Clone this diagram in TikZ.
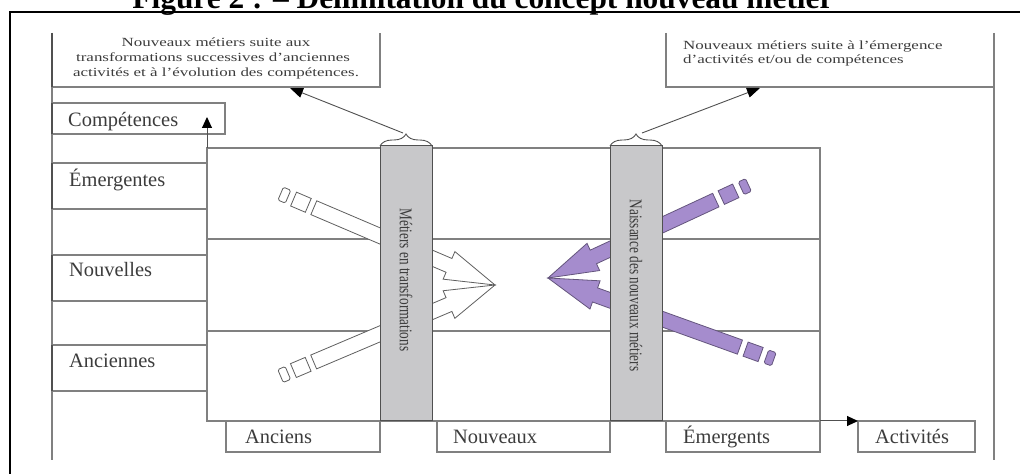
\documentclass[tikz,border=0pt]{standalone}
\usepackage{fontspec}
\usepackage{graphicx}
\setmainfont{Liberation Serif}
\usetikzlibrary{arrows.meta,decorations.pathreplacing}
\definecolor{gline}{RGB}{128,128,128}
\definecolor{gdark}{RGB}{80,80,80}
\definecolor{colfill}{RGB}{200,200,202}
\definecolor{purp}{RGB}{165,140,205}
\definecolor{purpline}{RGB}{100,85,125}
\definecolor{txt}{RGB}{60,60,60}
\definecolor{arrline}{RGB}{95,95,95}
\newcommand\wide[1]{\scalebox{1.36}[1]{#1}}
\newcommand\myarrow[6]{%
  \begin{scope}[shift={(#1,#2)},rotate=#3]
    \filldraw[fill=#5,draw=#6,line width=0.8bp,line join=miter]
      (0,0) -- (-50,15) -- (-50,7.5) -- (-#4,7.5) -- (-#4,-7.5) -- (-50,-7.5) -- (-50,-15) -- cycle;
    \filldraw[fill=#5,draw=#6,line width=0.8bp] (-#4-6,7.5) rectangle (-#4-22,-7.5);
    \filldraw[fill=#5,draw=#6,line width=0.8bp,rounded corners=1.5bp] (-#4-28,7) rectangle (-#4-36,-7);
  \end{scope}}
\begin{document}
\begin{tikzpicture}[x=1bp,y=-1bp,
  gl/.style={draw=gline,line width=1.1bp},
  edge/.style={draw=gdark,line width=2bp},
  lbl/.style={anchor=base west,inner sep=0,font=\fontsize{20.5}{24}\selectfont,text=txt},
  note/.style={inner sep=0,font=\fontsize{12.5}{14.7}\selectfont,text=txt},
  coltext/.style={rotate=-90,inner sep=0,font=\fontsize{13.3}{15}\selectfont,text=txt},
  axis/.style={draw=gdark,line width=1bp,-{Triangle[length=11bp,width=10bp,color=black]}},
  conn/.style={draw=gdark,line width=0.9bp,-{Triangle[length=13bp,width=10bp,color=black]}},
  brace/.style={draw=gdark,line width=0.9bp,decorate,decoration={brace,amplitude=12bp}}]
\useasboundingbox (0,0) rectangle (1020,474);

% title (cropped at the top)
\node[anchor=base,inner sep=0,font=\bfseries\fontsize{31.5}{36}\selectfont] (title) at (483,9) {Figure 2 : – Délimitation du concept nouveau métier};

% outer frame
\draw[black,line width=2.6bp] (10,474) -- (10,12) -- (1020,12);

% inner frame
\draw[gl] (52,33) -- (52,460);
\draw[gl] (994,33) -- (994,460);

% note boxes
\draw[gl] (52,87) -- (380,87) -- (380,33);
\draw[gl] (666,33) -- (666,87) -- (994,87);
\draw[edge] (52,33) -- (52,87);
\node[note,anchor=base] (nl1) at (216,47) {\wide{Nouveaux métiers suite aux}};
\node[note,anchor=base] (nl2) at (213,62) {\wide{transformations successives d’anciennes}};
\node[note,anchor=base] (nl3) at (216,76.5) {\wide{activités et à l’évolution des compétences.}};
\node[note,anchor=base west] (nr1) at (683,50) {\wide{Nouveaux métiers suite à l’émergence}};
\node[note,anchor=base west] (nr2) at (683,63.5) {\wide{d’activités et/ou de compétences}};

% Compétences box
\draw[gl] (52,103) rectangle (225,134);
\draw[edge] (52,103) -- (52,134);
\node[lbl] (comp) at (68,126.5) {Compétences};

% grid
\draw[gl] (207,148) rectangle (820,421);
\draw[gl] (207,239) -- (820,239);
\draw[gl] (207,331) -- (820,331);

% left label boxes
\draw[gl] (52,163) rectangle (207,209);
\draw[gl] (52,255) rectangle (207,301);
\draw[gl] (52,345) rectangle (207,391);
\draw[edge] (52,163) -- (52,209);
\draw[edge] (52,255) -- (52,301);
\draw[edge] (52,345) -- (52,391);
\node[lbl] (emer) at (69,187) {Émergentes};
\node[lbl] (nouv) at (69,277) {Nouvelles};
\node[lbl] (anc) at (69,368) {Anciennes};

% bottom label boxes
\draw[gl] (226,421) rectangle (380,452);
\draw[gl] (437,421) rectangle (610,452);
\draw[gl] (666,421) rectangle (820,452);
\draw[gl] (858,421) rectangle (975,452);
\node[lbl] (ancs) at (245,443) {Anciens};
\node[lbl] (nouvx) at (453,443) {Nouveaux};
\node[lbl] (emgs) at (683,443) {Émergents};
\node[lbl] (activ) at (875,443) {Activités};

% axes
\coordinate (o) at (207,421);
\coordinate (ytip) at (207,117);
\coordinate (xend) at (820,421);
\coordinate (xtip) at (858,421);
\draw[axis] (207,148) -- (ytip);
\draw[axis] (xend) -- (xtip);

% block arrows
\myarrow{495}{285}{-23.1}{197}{white}{arrline}
\myarrow{495}{285}{23}{197}{white}{arrline}
\myarrow{548}{278}{204.9}{185}{purp}{purpline}
\myarrow{548}{278}{160.2}{204}{purp}{purpline}

% columns
\filldraw[fill=colfill,draw=gdark,line width=1bp] (380,421) -- (380,146) -- (432,146) -- (432,421) -- cycle;
\filldraw[fill=colfill,draw=gdark,line width=1bp] (610,421) -- (610,146) -- (662,421-275) -- (662,421) -- cycle;
\node[coltext] (ct1) at (406,280) {\scalebox{1}[1.35]{Métiers en transformations}};
\node[coltext] (ct2) at (636,285.5) {\scalebox{1}[1.35]{Naissance des nouveaux métiers}};

% braces
\draw[brace] (380,146) -- (432,146);
\draw[brace] (610,146) -- (662,146);
\coordinate (b1) at (403,133);
\coordinate (b2) at (642,133);
\coordinate (aL) at (290,88);
\coordinate (aR) at (760,88);
\draw[conn] (b1) -- (aL);
\draw[conn] (b2) -- (aR);
\end{tikzpicture}
\end{document}
